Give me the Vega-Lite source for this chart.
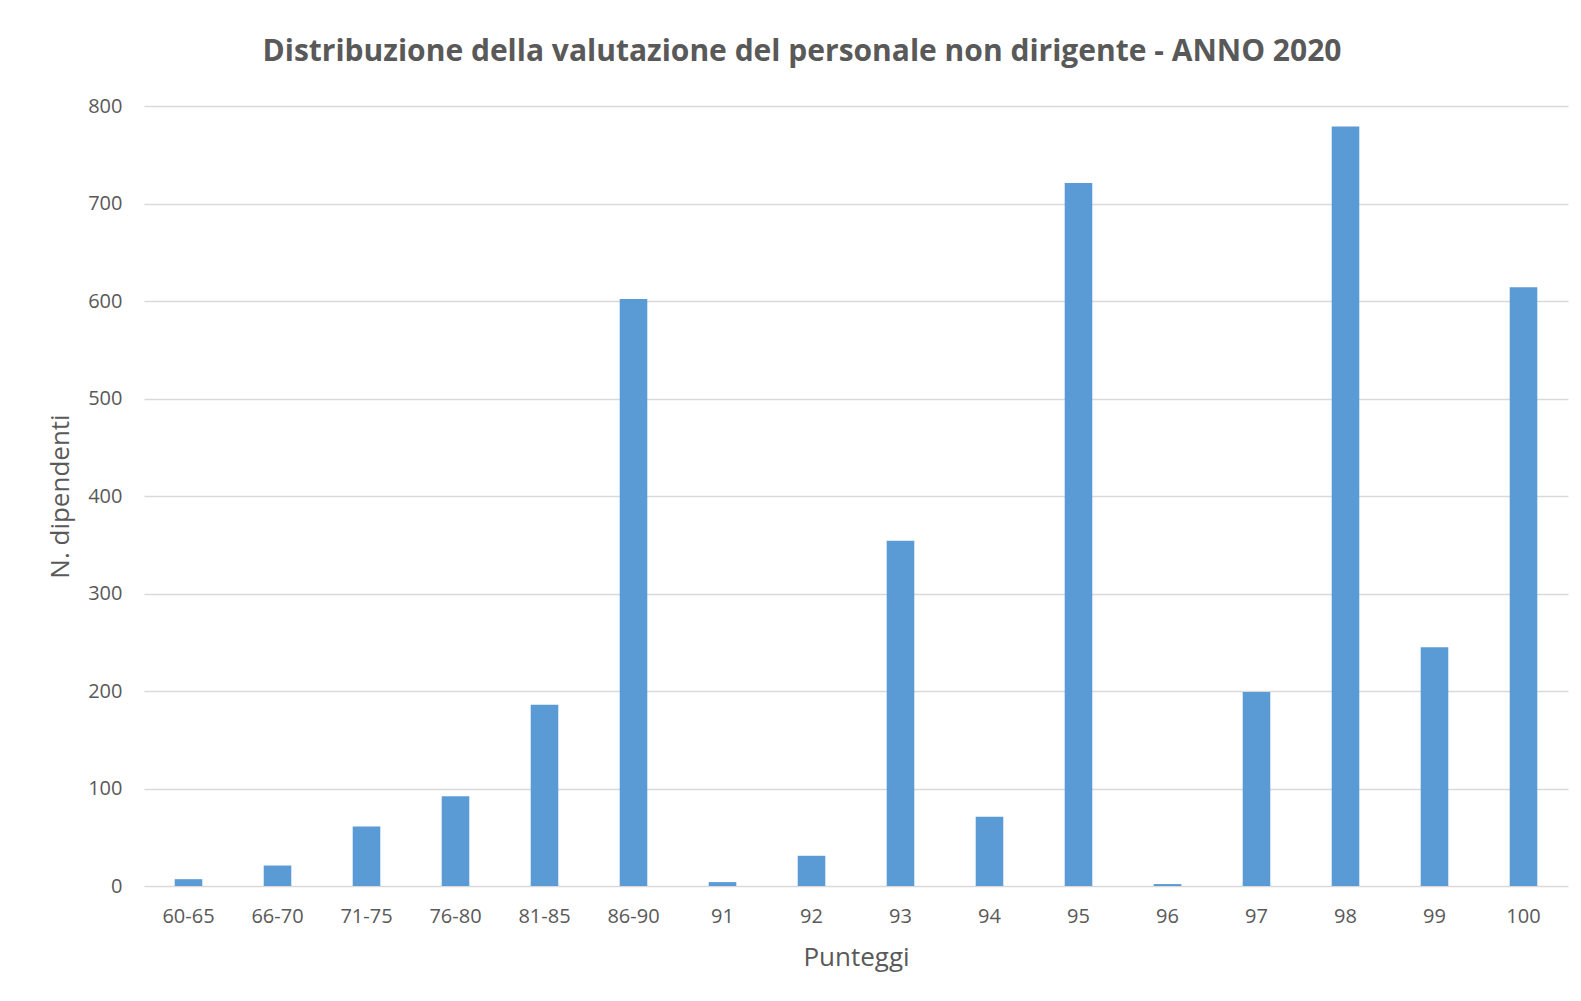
{
  "$schema": "https://vega.github.io/schema/vega-lite/v6.json",
  "autosize": "none",
  "width": 1424,
  "height": 780,
  "padding": {"left": 144, "top": 106, "right": 13, "bottom": 115},
  "background": "white",
  "title": {
    "text": "Distribuzione della valutazione del personale non dirigente - ANNO 2020",
    "font": "Open Sans",
    "fontSize": 30,
    "fontWeight": "bold",
    "color": "#595959",
    "anchor": "middle",
    "frame": "group",
    "dx": -54,
    "baseline": "middle",
    "offset": 14
  },
  "data": {
    "values": [
      {"punteggio": "60-65", "n": 7},
      {"punteggio": "66-70", "n": 21},
      {"punteggio": "71-75", "n": 61},
      {"punteggio": "76-80", "n": 92},
      {"punteggio": "81-85", "n": 186},
      {"punteggio": "86-90", "n": 602},
      {"punteggio": "91", "n": 4},
      {"punteggio": "92", "n": 31},
      {"punteggio": "93", "n": 354},
      {"punteggio": "94", "n": 71},
      {"punteggio": "95", "n": 721},
      {"punteggio": "96", "n": 2},
      {"punteggio": "97", "n": 199},
      {"punteggio": "98", "n": 779},
      {"punteggio": "99", "n": 245},
      {"punteggio": "100", "n": 614}
    ]
  },
  "mark": {"type": "bar", "color": "#5b9bd5"},
  "encoding": {
    "x": {
      "field": "punteggio",
      "type": "nominal",
      "sort": null,
      "scale": {"paddingInner": 0.69, "paddingOuter": 0.345},
      "axis": {
        "title": "Punteggi",
        "labelAngle": 0,
        "ticks": false,
        "domain": false,
        "grid": false,
        "labelPadding": 20,
        "labelFont": "Open Sans",
        "labelFontSize": 20,
        "labelColor": "#595959",
        "titleFont": "Open Sans",
        "titleFontSize": 26,
        "titleFontWeight": "normal",
        "titleColor": "#595959",
        "titlePadding": 18
      }
    },
    "y": {
      "field": "n",
      "type": "quantitative",
      "scale": {"domain": [0, 800], "nice": false},
      "axis": {
        "title": "N. dipendenti",
        "values": [0, 100, 200, 300, 400, 500, 600, 700, 800],
        "ticks": false,
        "domain": false,
        "grid": true,
        "gridColor": "#d9d9d9",
        "gridWidth": 1.5,
        "labelPadding": 22,
        "labelFont": "Open Sans",
        "labelFontSize": 20,
        "labelColor": "#595959",
        "titleFont": "Open Sans",
        "titleFontSize": 26,
        "titleFontWeight": "normal",
        "titleColor": "#595959",
        "titlePadding": 14
      }
    }
  },
  "config": {"view": {"stroke": null}}
}
